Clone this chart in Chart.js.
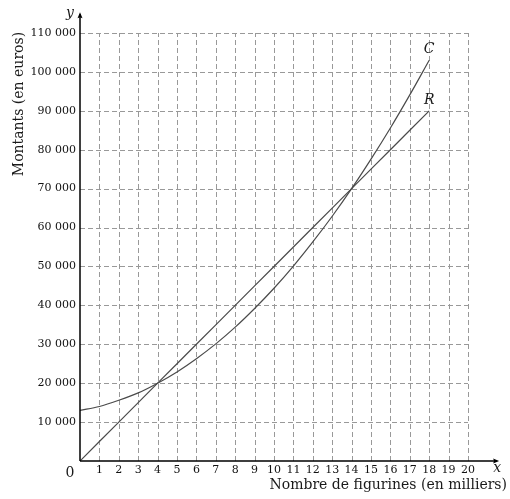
<!DOCTYPE html>
<html>
<head>
<meta charset="utf-8">
<script src="https://cdn.jsdelivr.net/npm/chart.js@4.4.1/dist/chart.umd.min.js"></script>
<style>
  html, body { margin: 0; padding: 0; background: #fff; }
  #wrap { width: 510px; height: 499px; }
</style>
</head>
<body>
<div id="wrap"><canvas id="chart" width="510" height="499"></canvas></div>
<script>
// nombre de figurines (milliers)
const quantities = [0, 1, 2, 3, 4, 5, 6, 7, 8, 9, 10, 11, 12, 13, 14, 15, 16, 17, 18];
// coût C (euros)
const costC = [13000, 14000, 15600, 17500, 20000, 22900, 26300, 30100, 34400, 39200,
               44400, 50100, 56300, 62900, 70000, 77600, 85600, 94100, 103000];
// recette R (euros)
const revenueR = [0, 5000, 10000, 15000, 20000, 25000, 30000, 35000, 40000, 45000,
                  50000, 55000, 60000, 65000, 70000, 75000, 80000, 85000, 90000];
const curveLabels = ['C', 'R'];
const labelPos = [[18, 105700], [18, 92800]];

const serif = '"DejaVu Serif", "Liberation Serif", serif';

function fmt(v) {
  if (v === 0) return '';
  return String(v).replace(/\B(?=(\d{3})+(?!\d))/g, ' ');
}

const gridAndAxes = {
  id: 'gridAndAxes',
  beforeDatasetsDraw(chart) {
    const { ctx, scales: { x, y } } = chart;
    ctx.save();
    ctx.strokeStyle = '#999';
    ctx.lineWidth = 1;
    ctx.setLineDash([5, 3]);
    for (let i = 1; i <= 20; i++) {
      const px = Math.round(x.getPixelForValue(i)) + 0.5;
      ctx.beginPath();
      ctx.moveTo(px, y.getPixelForValue(0));
      ctx.lineTo(px, y.getPixelForValue(110000));
      ctx.stroke();
    }
    for (let v = 10000; v <= 110000; v += 10000) {
      const py = Math.round(y.getPixelForValue(v)) + 0.5;
      ctx.beginPath();
      ctx.moveTo(x.getPixelForValue(0), py);
      ctx.lineTo(x.getPixelForValue(20), py);
      ctx.stroke();
    }
    ctx.restore();
  },
  afterDatasetsDraw(chart) {
    const { ctx, scales: { x, y } } = chart;
    const x0 = x.getPixelForValue(0), y0 = y.getPixelForValue(0);
    const xEnd = x.getPixelForValue(21.5), yEnd = y.getPixelForValue(114800);
    ctx.save();
    ctx.strokeStyle = '#000';
    ctx.fillStyle = '#000';
    ctx.lineWidth = 1.5;
    ctx.beginPath();
    ctx.moveTo(x0, y0);
    ctx.lineTo(xEnd, y0);
    ctx.moveTo(x0, y0);
    ctx.lineTo(x0, yEnd);
    ctx.stroke();
    // flèches
    ctx.beginPath();
    ctx.moveTo(xEnd + 2, y0);
    ctx.lineTo(xEnd - 4, y0 - 2.5);
    ctx.lineTo(xEnd - 3, y0);
    ctx.lineTo(xEnd - 4, y0 + 2.5);
    ctx.closePath();
    ctx.fill();
    ctx.beginPath();
    ctx.moveTo(x0, yEnd - 2);
    ctx.lineTo(x0 - 2.5, yEnd + 4);
    ctx.lineTo(x0, yEnd + 3);
    ctx.lineTo(x0 + 2.5, yEnd + 4);
    ctx.closePath();
    ctx.fill();

    ctx.fillStyle = '#1a1a1a';
    ctx.textAlign = 'center';
    ctx.textBaseline = 'middle';
    ctx.font = 'italic 14px ' + serif;
    ctx.fillText('x', xEnd, y0 + 7);
    ctx.fillText('y', x0 - 10, yEnd - 1);
    curveLabels.forEach((t, i) => {
      ctx.fillText(t, x.getPixelForValue(labelPos[i][0]), y.getPixelForValue(labelPos[i][1]));
    });
    ctx.font = '14px ' + serif;
    ctx.fillText('0', x0 - 10, y0 + 12);

    ctx.font = '14px ' + serif;
    ctx.textAlign = 'right';
    ctx.textBaseline = 'alphabetic';
    ctx.fillText('Nombre de figurines (en milliers)', 507, 489);

    ctx.translate(19, 104);
    ctx.rotate(-Math.PI / 2);
    ctx.textAlign = 'center';
    ctx.textBaseline = 'middle';
    ctx.fillText('Montants (en euros)', 0, 0);
    ctx.restore();
  }
};

new Chart(document.getElementById('chart'), {
  type: 'line',
  data: {
    labels: quantities,
    datasets: [
      {
        label: 'C',
        data: quantities.map((q, i) => ({ x: q, y: costC[i] })),
        borderColor: '#4a4a4a',
        borderWidth: 1.2,
        pointRadius: 0,
        cubicInterpolationMode: 'monotone',
        fill: false
      },
      {
        label: 'R',
        data: quantities.map((q, i) => ({ x: q, y: revenueR[i] })),
        borderColor: '#4a4a4a',
        borderWidth: 1.2,
        pointRadius: 0,
        tension: 0,
        fill: false
      }
    ]
  },
  options: {
    responsive: false,
    animation: false,
    layout: { padding: { top: 33, right: 42, left: 0, bottom: 0 } },
    plugins: { legend: { display: false }, tooltip: { enabled: false } },
    scales: {
      x: {
        type: 'linear',
        min: 0,
        max: 20,
        grid: { display: false, drawTicks: false },
        border: { display: false },
        afterFit(scale) { scale.height = 38; },
        ticks: {
          stepSize: 1,
          padding: 3,
          maxRotation: 0,
          autoSkip: false,
          color: '#111',
          font: { family: serif, size: 11 },
          callback: v => (v === 0 ? '' : String(v))
        }
      },
      y: {
        min: 0,
        max: 110000,
        grid: { display: false, drawTicks: false },
        border: { display: false },
        afterFit(scale) { scale.width = 80; },
        ticks: {
          stepSize: 10000,
          padding: 4,
          color: '#111',
          font: { family: serif, size: 11 },
          callback: v => fmt(v)
        }
      }
    }
  },
  plugins: [gridAndAxes]
});
</script>
</body>
</html>
